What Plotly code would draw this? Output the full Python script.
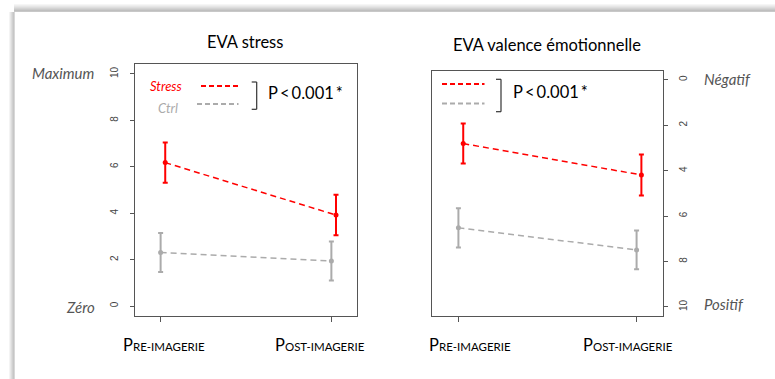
import plotly.graph_objects as go

W, H = 775, 379

# ---------------- data ----------------
conditions = ["Pre-imagerie", "Post-imagerie"]
x_pos = [1, 2]
stress_offset = 0.027

eva_stress_stress = [6.18, 3.92]
eva_stress_stress_err = [0.87, 0.87]
eva_stress_ctrl = [2.31, 1.94]
eva_stress_ctrl_err = [0.84, 0.84]

eva_valence_stress = [2.81, 4.19]
eva_valence_stress_err = [0.88, 0.90]
eva_valence_ctrl = [6.52, 7.49]
eva_valence_ctrl_err = [0.86, 0.85]

y_ticks = [0, 2, 4, 6, 8, 10]
p_text = "P\u2009<\u20090.001\u2009*"

RED = "#FF0000"
GRAY = "#ABABAB"
FONT = "Lato"


def px(x):
    return x / W


def py(y):
    return 1 - y / H


fig = go.Figure()


def add_series(vals, errs, color, xa, ya, offset):
    fig.add_trace(go.Scatter(
        x=[p + offset for p in x_pos], y=vals, xaxis=xa, yaxis=ya,
        mode="lines+markers",
        line=dict(color=color, width=1.5, dash="6px,4px"),
        marker=dict(color=color, size=5),
        error_y=dict(type="data", array=errs, visible=True, color=color,
                     thickness=2, width=2.5),
        showlegend=False, hoverinfo="skip"))


add_series(eva_stress_ctrl, eva_stress_ctrl_err, GRAY, "x", "y", 0)
add_series(eva_stress_stress, eva_stress_stress_err, RED, "x", "y", stress_offset)
add_series(eva_valence_ctrl, eva_valence_ctrl_err, GRAY, "x2", "y2", 0)
add_series(eva_valence_stress, eva_valence_stress_err, RED, "x2", "y2", stress_offset)

axis_common = dict(showgrid=False, zeroline=False, showline=True, mirror=True,
                   linecolor="#555555", linewidth=1, ticks="outside",
                   tickcolor="#555555", fixedrange=True)

fig.update_layout(
    width=W, height=H, margin=dict(l=0, r=0, t=0, b=0),
    paper_bgcolor="white", plot_bgcolor="white",
    xaxis=dict(domain=[px(135), px(357)], range=[0.85, 2.15], tickvals=x_pos,
               showticklabels=False, ticklen=5, anchor="y", **axis_common),
    yaxis=dict(domain=[py(316), py(64)], range=[-0.43, 10.43], tickvals=y_ticks,
               ticklen=4, tickangle=-90, anchor="x",
               tickfont=dict(family="Liberation Sans", size=10, color="#444444"),
               ticklabelstandoff=8, **axis_common),
    xaxis2=dict(domain=[px(431.7), px(663.3)], range=[0.85, 2.15], tickvals=x_pos,
                showticklabels=False, ticklen=5, anchor="y2", **axis_common),
    yaxis2=dict(domain=[py(316), py(70.7)], range=[10.4, -0.4], tickvals=y_ticks,
                ticklen=4, tickangle=-90, anchor="x2", side="right",
                tickfont=dict(family="Liberation Sans", size=10, color="#444444"),
                ticklabelstandoff=7, **axis_common),
)

ann = []


def text(x, y, t, size=14, color="black", xanchor="center", italic=False):
    ann.append(dict(x=px(x), y=py(y), xref="paper", yref="paper", text=t,
                    showarrow=False, xanchor=xanchor, yanchor="middle",
                    font=dict(family=FONT, size=size, color=color,
                              style="italic" if italic else "normal")))


def smallcaps(label):
    return (label[0].upper() + "<span style='font-size:11.5px'>"
            + label[1:].upper() + "</span>")


# titles
text(245, 42, "EVA stress", size=16.5)
text(547, 45, "EVA valence émotionnelle", size=16.5)

# x labels
text(163.7, 345, smallcaps(conditions[0]), size=16.5)
text(320, 345, smallcaps(conditions[1]), size=16.5)
text(470, 345, smallcaps(conditions[0]), size=16.5)
text(627.5, 345, smallcaps(conditions[1]), size=16.5)

# side labels
SIDE = "#555555"
text(97, 73, "Maximum", size=15, color=SIDE, xanchor="right", italic=True)
text(97, 307, "Zéro", size=15, color=SIDE, xanchor="right", italic=True)
text(702, 79, "Négatif", size=15, color=SIDE, xanchor="left", italic=True)
text(702, 304, "Positif", size=15, color=SIDE, xanchor="left", italic=True)

# legend texts
text(184, 86, "Stress", size=13, color=RED, xanchor="right", italic=True)
text(180, 108, "Ctrl", size=13, color=GRAY, xanchor="right", italic=True)
text(266, 93, p_text, size=16.5, xanchor="left")
text(511, 92, p_text, size=16.5, xanchor="left")

shapes = []


def line(x0, y0, x1, y1, color, width=1, dash="solid"):
    shapes.append(dict(type="line", xref="paper", yref="paper",
                       x0=px(x0), y0=py(y0), x1=px(x1), y1=py(y1),
                       line=dict(color=color, width=width, dash=dash)))


# legend dashes
line(201, 86, 238.5, 86, RED, 2.2, "5px,3px")
line(197, 104, 238.5, 104, GRAY, 2.2, "5px,3px")
line(442, 84, 484.5, 84, RED, 2.2, "5px,3px")
line(442, 103.5, 484.5, 103.5, GRAY, 2.2, "5px,3px")
# brackets
for bx, by0, by1 in [(256.7, 82, 109.3), (501, 79.3, 111.7)]:
    line(bx, by0, bx, by1, "#333333", 1.2)
    line(bx - 5, by0, bx, by0, "#333333", 1.2)
    line(bx - 5, by1, bx, by1, "#333333", 1.2)

# shadow frame of the pasted picture
grays = ["#f6f6f6", "#eeeeee", "#e6e6e6", "#dddddd", "#d3d3d3", "#c9c9c9", "#bfbfbf", "#c8c8c8"]
for i, c in enumerate(grays):
    yy = 4.5 + i
    line(14, yy, W, yy, c, 1)
lgrays = ["#f4f4f4", "#e8e8e8", "#dcdcdc", "#d0d0d0", "#c6c6c6", "#d8d8d8"]
for i, c in enumerate(lgrays):
    xx = 9.5 + i
    line(xx, 12, xx, H, c, 1)

fig.update_layout(annotations=ann, shapes=shapes)
fig.write_html("out.html", config={"displayModeBar": False},
               post_script="document.body.style.margin='0';document.body.style.overflow='hidden';")
